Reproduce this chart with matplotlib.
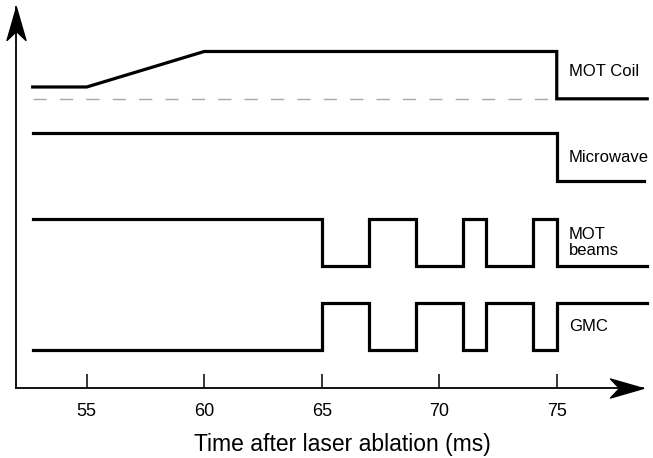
import numpy as np
import matplotlib
matplotlib.use("Agg")
import matplotlib.pyplot as plt
from matplotlib.path import Path

plt.rcParams['font.family'] = ['Liberation Sans', 'DejaVu Sans']

# timing sequence (ms after ablation)
t_start = 52.7
t_end = 78.85
coil_t = [t_start, 55, 60, 75, 75, t_end]
coil_v = [0.25, 0.25, 1, 1, 0, 0]
micro_t = [t_start, 75, 75, 78.7]
micro_v = [1, 1, 0, 0]
edges = [t_start, 65, 67, 69, 71, 72, 74, 75, t_end]
beams_state = [1, 0, 1, 0, 1, 0, 1, 0]
gmc_state = [0, 1, 0, 1, 0, 1, 0, 1]
labels = ["MOT Coil", "Microwave", "MOT\nbeams", "GMC"]
offsets = [5.31, 3.58, 1.78, 0.0]
ticks = [55, 60, 65, 70, 75]

W, H = 653, 458
fig = plt.figure(figsize=(W/100, H/100), dpi=100)
ax = fig.add_axes([16/W, 70/H, (643-16)/W, (388-7)/H])
ax.set_xlim(51.99, 78.67)
ax.set_ylim(-0.8, 7.25)

lw = 2.3
ax.plot(coil_t, np.array(coil_v) + offsets[0], color='black', lw=lw, clip_on=False,
        solid_joinstyle='miter')
ax.plot([t_start, 75], [offsets[0], offsets[0]], color='#a8a8a8', lw=1.0,
        dashes=(9.5, 9.5), zorder=1)
ax.plot(micro_t, np.array(micro_v) + offsets[1], color='black', lw=lw, clip_on=False,
        solid_joinstyle='miter')
bs = beams_state + [beams_state[-1]]
gs = gmc_state + [gmc_state[-1]]
ax.step(edges, np.array(bs) + offsets[2], where='post', color='black', lw=lw,
        clip_on=False, solid_joinstyle='miter')
ax.step(edges, np.array(gs) + offsets[3], where='post', color='black', lw=lw,
        clip_on=False, solid_joinstyle='miter')

lab_y = [offsets[0] + 0.57, offsets[1] + 0.49, offsets[2] + 0.49, offsets[3] + 0.49]
for lab, yy in zip(labels, lab_y):
    ax.text(75.52, yy, lab, fontsize=12, ha='left', va='center', linespacing=1.1)

# axes with arrow heads
for s in ['top', 'right']:
    ax.spines[s].set_visible(False)
ax.spines['left'].set_linewidth(1.3)
ax.spines['bottom'].set_linewidth(1.3)
ax.set_xticks(ticks)
ax.set_yticks([])
ax.tick_params(axis='x', direction='in', length=10, width=1.1, labelsize=13, pad=11)

right_head = Path([(0, 0), (-33, 9.5), (-24, 0), (-33, -9.5), (0, 0)],
                  [Path.MOVETO, Path.LINETO, Path.LINETO, Path.LINETO, Path.CLOSEPOLY])
up_head = Path([(0, 0), (9.5, -33), (0, -24), (-9.5, -33), (0, 0)],
               [Path.MOVETO, Path.LINETO, Path.LINETO, Path.LINETO, Path.CLOSEPOLY])
ax.plot([1], [0], marker=right_head, markersize=47.5, color='black',
        transform=ax.transAxes, clip_on=False)
ax.plot([0], [1], marker=up_head, markersize=47.5, color='black',
        transform=ax.transAxes, clip_on=False)

fig.text(342.5/W, 1 - 444/H, "Time after laser ablation (ms)", fontsize=16.5,
         ha='center', va='center')

fig.savefig("out.png", dpi=100)
